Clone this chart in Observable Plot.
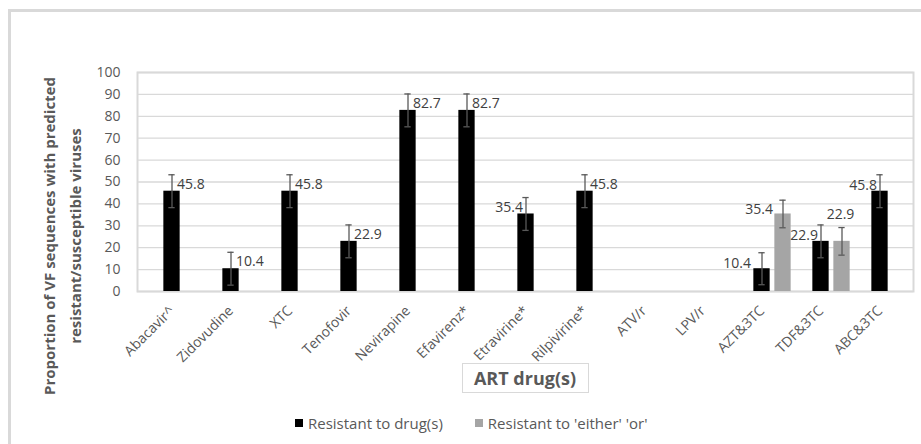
<!DOCTYPE html>
<html><head><meta charset="utf-8">
<script src="https://cdn.jsdelivr.net/npm/d3@7"></script>
<script src="https://cdn.jsdelivr.net/npm/@observablehq/plot@0.6"></script>
<style>
body{margin:0;background:#fff;}
#wrap{position:relative;width:921px;height:444px;overflow:hidden;font-family:"Open Sans",sans-serif;}
#border{position:absolute;left:8px;top:9px;width:940px;height:460px;border-left:3px solid #d9d9d9;border-top:3px solid #d9d9d9;box-sizing:border-box;}
#chart{position:absolute;left:0;top:0;}
#legend{position:absolute;left:295px;top:413px;display:flex;align-items:center;font-size:15px;color:#595959;white-space:nowrap;}
#legend .sw{display:inline-block;width:8px;height:8px;margin-right:5px;}
#legend .item{display:flex;align-items:center;margin-right:32px;}
</style></head>
<body><div id="wrap"><div id="border"></div><div id="chart"></div><div id="legend"></div></div>
<script>
// ---- data ----
const drugs = ["Abacavir^","Zidovudine","XTC","Tenofovir","Nevirapine","Efavirenz*","Etravirine*","Rilpivirine*","ATV/r","LPV/r","AZT&3TC","TDF&3TC","ABC&3TC"];
const resistant    = [45.8,10.4,45.8,22.9,82.7,82.7,35.4,45.8,null,null,10.4,22.9,45.8];
const resistantErr = [7.5, 7.5, 7.5, 7.5, 7.5, 7.5, 7.5, 7.5, null,null,7.3, 7.5, 7.5];
const eitherOr     = [null,null,null,null,null,null,null,null,null,null,35.4,22.9,null];
const eitherOrErr  = [null,null,null,null,null,null,null,null,null,null,6.3, 6.3, null];
const yTicks = [0,10,20,30,40,50,60,70,80,90,100];
const seriesNames = ["Resistant to drug(s)","Resistant to 'either' 'or'"];
const seriesColors = ["#000000","#a5a5a5"];
const yTitle = ["Proportion of VF sequences with predicted","resistant/susceptible viruses"];
const xTitle = "ART drug(s)";

// ---- tables ----
const blackRows = drugs.map((d,i)=>({drug:d,value:resistant[i],err:resistantErr[i]})).filter(r=>r.value!=null);
const grayRows = drugs.map((d,i)=>({drug:d,value:eitherOr[i],err:eitherOrErr[i]})).filter(r=>r.value!=null);
const leftLabelled = new Set(["Etravirine*","TDF&3TC","ABC&3TC"]);
const farLeftLabelled = new Set(["AZT&3TC"]);
const rightRows = blackRows.filter(r=>!leftLabelled.has(r.drug)&&!farLeftLabelled.has(r.drug));
const leftRows = blackRows.filter(r=>leftLabelled.has(r.drug));
const farLeftRows = blackRows.filter(r=>farLeftLabelled.has(r.drug));
const grayLeft = grayRows.filter(r=>r.drug==="AZT&3TC");
const grayTop = grayRows.filter(r=>r.drug==="TDF&3TC");

const errColor = "#595959";
const bw = 776/13;
const barHalfInset = (bw-17)/2;
const capInset = (bw-7)/2;
const grayShift = 21;
const lbl = {fill:"#404040", fontSize:14};

const plot = Plot.plot({
  width: 921, height: 444,
  marginLeft: 137, marginRight: 8, marginTop: 72, marginBottom: 153,
  style: {fontFamily:"Open Sans, sans-serif", fontSize:"13px", color:"#595959", background:"transparent", overflow:"visible"},
  x: {type:"band", domain: drugs, padding: 0},
  y: {domain:[0,100]},
  marks: [
    Plot.gridY(yTicks, {stroke:"#d9d9d9", strokeOpacity:1, strokeWidth:1.3}),
    Plot.frame({stroke:"#d9d9d9", strokeWidth:2}),
    Plot.barY(blackRows, {x:"drug", y:"value", fill:seriesColors[0], insetLeft:barHalfInset, insetRight:barHalfInset}),
    Plot.barY(grayRows, {x:"drug", y:"value", fill:seriesColors[1], insetLeft:barHalfInset+grayShift, insetRight:barHalfInset-grayShift}),
    Plot.ruleX(blackRows, {x:"drug", y1:d=>d.value-d.err, y2:d=>d.value+d.err, stroke:errColor, strokeWidth:1.3}),
    Plot.tickY(blackRows, {x:"drug", y:d=>d.value+d.err, stroke:errColor, strokeWidth:1.3, insetLeft:capInset, insetRight:capInset}),
    Plot.tickY(blackRows, {x:"drug", y:d=>d.value-d.err, stroke:errColor, strokeWidth:1.3, insetLeft:capInset, insetRight:capInset}),
    Plot.ruleX(grayRows, {x:"drug", y1:d=>d.value-d.err, y2:d=>d.value+d.err, stroke:errColor, strokeWidth:1.3, dx:grayShift}),
    Plot.tickY(grayRows, {x:"drug", y:d=>d.value+d.err, stroke:errColor, strokeWidth:1.3, insetLeft:capInset+grayShift, insetRight:capInset-grayShift}),
    Plot.tickY(grayRows, {x:"drug", y:d=>d.value-d.err, stroke:errColor, strokeWidth:1.3, insetLeft:capInset+grayShift, insetRight:capInset-grayShift}),
    Plot.text(rightRows, {x:"drug", y:"value", text:d=>d.value.toFixed(1), dx:5, dy:-7, textAnchor:"start", ...lbl}),
    Plot.text(leftRows, {x:"drug", y:"value", text:d=>d.value.toFixed(1), dx:-3, dy:-6, textAnchor:"end", ...lbl}),
    Plot.text(farLeftRows, {x:"drug", y:"value", text:d=>d.value.toFixed(1), dx:-11, dy:-5, textAnchor:"end", ...lbl}),
    Plot.text(grayLeft, {x:"drug", y:"value", text:d=>d.value.toFixed(1), dx:11, dy:-4, textAnchor:"end", ...lbl}),
    Plot.text(grayTop, {x:"drug", y:d=>d.value+d.err, text:d=>d.value.toFixed(1), dx:19.5, dy:-13, textAnchor:"middle", ...lbl}),
    Plot.axisY(yTicks, {tickSize:0, tickPadding:17, fontSize:14, fill:"#595959", label:null}),
    Plot.axisX({tickSize:0, tickPadding:17, tickRotate:-45, fontSize:14, fill:"#595959", label:null})
  ]
});
document.getElementById("chart").appendChild(plot);

// axis titles
const svg = d3.select(plot);
const yt = svg.append("g").attr("fill","#595959").attr("font-weight","bold").attr("font-size","15px").attr("text-anchor","middle");
yt.append("text").attr("transform","translate(55,236) rotate(-90)").text(yTitle[0]);
yt.append("text").attr("transform","translate(81,236) rotate(-90)").text(yTitle[1]);
svg.append("rect").attr("x",462.5).attr("y",363.5).attr("width",126).attr("height",29).attr("fill","none").attr("stroke","#d9d9d9");
svg.append("text").attr("x",525).attr("y",385).attr("text-anchor","middle").attr("font-weight","bold").attr("font-size","18px").attr("fill","#595959").text(xTitle);

// legend
const lg = d3.select("#legend");
seriesNames.forEach((n,i)=>{
  const it = lg.append("div").attr("class","item");
  it.append("span").attr("class","sw").style("background",seriesColors[i]);
  it.append("span").text(n);
});
</script>
</body></html>
